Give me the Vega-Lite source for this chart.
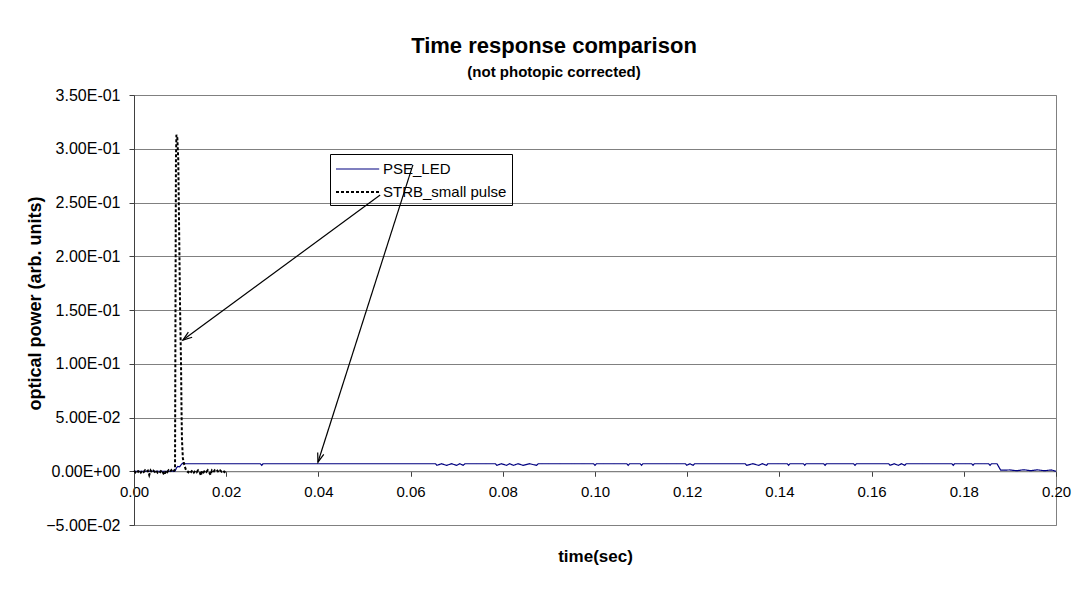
{
  "$schema": "https://vega.github.io/schema/vega-lite/v6.json",
  "width": 922,
  "height": 430,
  "autosize": "none",
  "padding": {"left": 134, "top": 95, "right": 30, "bottom": 73},
  "background": "white",
  "title": {
    "text": "Time response comparison",
    "subtitle": "(not photopic corrected)",
    "anchor": "middle",
    "frame": "group",
    "dx": -41,
    "offset": 6,
    "font": "Liberation Sans",
    "fontSize": 22,
    "fontWeight": "bold",
    "color": "black",
    "subtitleFont": "Liberation Sans",
    "subtitleFontSize": 15,
    "subtitleFontWeight": "bold",
    "subtitleColor": "black",
    "subtitlePadding": 7
  },
  "datasets": {
    "series": [
      {"t": 0.0, "power": 0.0, "series": "PSE_LED"},
      {"t": 0.0089, "power": 0.0, "series": "PSE_LED"},
      {"t": 0.0092, "power": 0.003, "series": "PSE_LED"},
      {"t": 0.0095, "power": 0.0045, "series": "PSE_LED"},
      {"t": 0.0099, "power": 0.0042, "series": "PSE_LED"},
      {"t": 0.0103, "power": 0.0065, "series": "PSE_LED"},
      {"t": 0.0107, "power": 0.0078, "series": "PSE_LED"},
      {"t": 0.0111, "power": 0.007, "series": "PSE_LED"},
      {"t": 0.0274, "power": 0.007, "series": "PSE_LED"},
      {"t": 0.0277, "power": 0.0055, "series": "PSE_LED"},
      {"t": 0.028, "power": 0.007, "series": "PSE_LED"},
      {"t": 0.0654, "power": 0.007, "series": "PSE_LED"},
      {"t": 0.0657, "power": 0.0055, "series": "PSE_LED"},
      {"t": 0.0667, "power": 0.007, "series": "PSE_LED"},
      {"t": 0.0678, "power": 0.0055, "series": "PSE_LED"},
      {"t": 0.0689, "power": 0.007, "series": "PSE_LED"},
      {"t": 0.07, "power": 0.0055, "series": "PSE_LED"},
      {"t": 0.0707, "power": 0.007, "series": "PSE_LED"},
      {"t": 0.0714, "power": 0.0055, "series": "PSE_LED"},
      {"t": 0.0718, "power": 0.007, "series": "PSE_LED"},
      {"t": 0.0784, "power": 0.007, "series": "PSE_LED"},
      {"t": 0.0787, "power": 0.0055, "series": "PSE_LED"},
      {"t": 0.0797, "power": 0.007, "series": "PSE_LED"},
      {"t": 0.0808, "power": 0.0055, "series": "PSE_LED"},
      {"t": 0.0815, "power": 0.007, "series": "PSE_LED"},
      {"t": 0.0823, "power": 0.0055, "series": "PSE_LED"},
      {"t": 0.0833, "power": 0.007, "series": "PSE_LED"},
      {"t": 0.0844, "power": 0.0055, "series": "PSE_LED"},
      {"t": 0.0858, "power": 0.007, "series": "PSE_LED"},
      {"t": 0.0873, "power": 0.0055, "series": "PSE_LED"},
      {"t": 0.0877, "power": 0.007, "series": "PSE_LED"},
      {"t": 0.0997, "power": 0.007, "series": "PSE_LED"},
      {"t": 0.1, "power": 0.0055, "series": "PSE_LED"},
      {"t": 0.1003, "power": 0.007, "series": "PSE_LED"},
      {"t": 0.1069, "power": 0.007, "series": "PSE_LED"},
      {"t": 0.1072, "power": 0.0055, "series": "PSE_LED"},
      {"t": 0.1075, "power": 0.007, "series": "PSE_LED"},
      {"t": 0.1098, "power": 0.007, "series": "PSE_LED"},
      {"t": 0.1101, "power": 0.0055, "series": "PSE_LED"},
      {"t": 0.1104, "power": 0.007, "series": "PSE_LED"},
      {"t": 0.1196, "power": 0.007, "series": "PSE_LED"},
      {"t": 0.1199, "power": 0.0055, "series": "PSE_LED"},
      {"t": 0.1206, "power": 0.007, "series": "PSE_LED"},
      {"t": 0.1213, "power": 0.0055, "series": "PSE_LED"},
      {"t": 0.1216, "power": 0.007, "series": "PSE_LED"},
      {"t": 0.1326, "power": 0.007, "series": "PSE_LED"},
      {"t": 0.1329, "power": 0.0055, "series": "PSE_LED"},
      {"t": 0.1342, "power": 0.007, "series": "PSE_LED"},
      {"t": 0.1355, "power": 0.0055, "series": "PSE_LED"},
      {"t": 0.1363, "power": 0.007, "series": "PSE_LED"},
      {"t": 0.1372, "power": 0.0055, "series": "PSE_LED"},
      {"t": 0.1375, "power": 0.007, "series": "PSE_LED"},
      {"t": 0.1417, "power": 0.007, "series": "PSE_LED"},
      {"t": 0.142, "power": 0.0055, "series": "PSE_LED"},
      {"t": 0.1423, "power": 0.007, "series": "PSE_LED"},
      {"t": 0.1452, "power": 0.007, "series": "PSE_LED"},
      {"t": 0.1455, "power": 0.0055, "series": "PSE_LED"},
      {"t": 0.1458, "power": 0.007, "series": "PSE_LED"},
      {"t": 0.1496, "power": 0.007, "series": "PSE_LED"},
      {"t": 0.1499, "power": 0.0055, "series": "PSE_LED"},
      {"t": 0.1502, "power": 0.007, "series": "PSE_LED"},
      {"t": 0.1561, "power": 0.007, "series": "PSE_LED"},
      {"t": 0.1564, "power": 0.0055, "series": "PSE_LED"},
      {"t": 0.1567, "power": 0.007, "series": "PSE_LED"},
      {"t": 0.1637, "power": 0.007, "series": "PSE_LED"},
      {"t": 0.164, "power": 0.0055, "series": "PSE_LED"},
      {"t": 0.1649, "power": 0.007, "series": "PSE_LED"},
      {"t": 0.1658, "power": 0.0055, "series": "PSE_LED"},
      {"t": 0.1665, "power": 0.007, "series": "PSE_LED"},
      {"t": 0.1672, "power": 0.0055, "series": "PSE_LED"},
      {"t": 0.1675, "power": 0.007, "series": "PSE_LED"},
      {"t": 0.1774, "power": 0.007, "series": "PSE_LED"},
      {"t": 0.1777, "power": 0.0055, "series": "PSE_LED"},
      {"t": 0.178, "power": 0.007, "series": "PSE_LED"},
      {"t": 0.1817, "power": 0.007, "series": "PSE_LED"},
      {"t": 0.182, "power": 0.0055, "series": "PSE_LED"},
      {"t": 0.1823, "power": 0.007, "series": "PSE_LED"},
      {"t": 0.1854, "power": 0.007, "series": "PSE_LED"},
      {"t": 0.1857, "power": 0.0055, "series": "PSE_LED"},
      {"t": 0.186, "power": 0.007, "series": "PSE_LED"},
      {"t": 0.1872, "power": 0.007, "series": "PSE_LED"},
      {"t": 0.188, "power": 0.001, "series": "PSE_LED"},
      {"t": 0.19, "power": 0.0012, "series": "PSE_LED"},
      {"t": 0.1915, "power": 0.0005, "series": "PSE_LED"},
      {"t": 0.193, "power": 0.0014, "series": "PSE_LED"},
      {"t": 0.1945, "power": 0.0005, "series": "PSE_LED"},
      {"t": 0.196, "power": 0.0013, "series": "PSE_LED"},
      {"t": 0.1975, "power": 0.0005, "series": "PSE_LED"},
      {"t": 0.199, "power": 0.0012, "series": "PSE_LED"},
      {"t": 0.2, "power": 0.0, "series": "PSE_LED"},
      {"t": 0.0, "power": 0.0005, "series": "STRB_small pulse"},
      {"t": 0.0003, "power": -0.001, "series": "STRB_small pulse"},
      {"t": 0.0006, "power": 0.0008, "series": "STRB_small pulse"},
      {"t": 0.0009, "power": -0.0005, "series": "STRB_small pulse"},
      {"t": 0.0012, "power": 0.001, "series": "STRB_small pulse"},
      {"t": 0.0015, "power": -0.0012, "series": "STRB_small pulse"},
      {"t": 0.0018, "power": 0.0004, "series": "STRB_small pulse"},
      {"t": 0.0021, "power": -0.0008, "series": "STRB_small pulse"},
      {"t": 0.0024, "power": 0.0009, "series": "STRB_small pulse"},
      {"t": 0.0027, "power": -0.0004, "series": "STRB_small pulse"},
      {"t": 0.003, "power": 0.0006, "series": "STRB_small pulse"},
      {"t": 0.0033, "power": -0.0035, "series": "STRB_small pulse"},
      {"t": 0.0036, "power": 0.0008, "series": "STRB_small pulse"},
      {"t": 0.0039, "power": -0.001, "series": "STRB_small pulse"},
      {"t": 0.0042, "power": 0.0005, "series": "STRB_small pulse"},
      {"t": 0.0045, "power": -0.0006, "series": "STRB_small pulse"},
      {"t": 0.0048, "power": 0.001, "series": "STRB_small pulse"},
      {"t": 0.0051, "power": -0.0012, "series": "STRB_small pulse"},
      {"t": 0.0054, "power": 0.0003, "series": "STRB_small pulse"},
      {"t": 0.0057, "power": -0.0007, "series": "STRB_small pulse"},
      {"t": 0.006, "power": 0.0009, "series": "STRB_small pulse"},
      {"t": 0.0063, "power": -0.0015, "series": "STRB_small pulse"},
      {"t": 0.0066, "power": -0.0035, "series": "STRB_small pulse"},
      {"t": 0.0069, "power": 0.0006, "series": "STRB_small pulse"},
      {"t": 0.0072, "power": -0.0009, "series": "STRB_small pulse"},
      {"t": 0.0075, "power": 0.0008, "series": "STRB_small pulse"},
      {"t": 0.0078, "power": -0.0005, "series": "STRB_small pulse"},
      {"t": 0.0081, "power": 0.001, "series": "STRB_small pulse"},
      {"t": 0.0084, "power": -0.0008, "series": "STRB_small pulse"},
      {"t": 0.0087, "power": 0.0004, "series": "STRB_small pulse"},
      {"t": 0.0089, "power": 0.002, "series": "STRB_small pulse"},
      {"t": 0.009, "power": 0.15, "series": "STRB_small pulse"},
      {"t": 0.0091, "power": 0.29, "series": "STRB_small pulse"},
      {"t": 0.0092, "power": 0.313, "series": "STRB_small pulse"},
      {"t": 0.0094, "power": 0.31, "series": "STRB_small pulse"},
      {"t": 0.0096, "power": 0.29, "series": "STRB_small pulse"},
      {"t": 0.0098, "power": 0.22, "series": "STRB_small pulse"},
      {"t": 0.01, "power": 0.15, "series": "STRB_small pulse"},
      {"t": 0.0102, "power": 0.1, "series": "STRB_small pulse"},
      {"t": 0.0103, "power": 0.06, "series": "STRB_small pulse"},
      {"t": 0.0104, "power": 0.03, "series": "STRB_small pulse"},
      {"t": 0.0106, "power": 0.012, "series": "STRB_small pulse"},
      {"t": 0.0109, "power": 0.006, "series": "STRB_small pulse"},
      {"t": 0.0112, "power": 0.002, "series": "STRB_small pulse"},
      {"t": 0.0115, "power": 0.0, "series": "STRB_small pulse"},
      {"t": 0.0118, "power": -0.001, "series": "STRB_small pulse"},
      {"t": 0.0121, "power": 0.0008, "series": "STRB_small pulse"},
      {"t": 0.0124, "power": -0.0006, "series": "STRB_small pulse"},
      {"t": 0.0127, "power": 0.001, "series": "STRB_small pulse"},
      {"t": 0.013, "power": -0.0012, "series": "STRB_small pulse"},
      {"t": 0.0133, "power": 0.0005, "series": "STRB_small pulse"},
      {"t": 0.0136, "power": -0.0008, "series": "STRB_small pulse"},
      {"t": 0.0139, "power": 0.0009, "series": "STRB_small pulse"},
      {"t": 0.0142, "power": -0.0005, "series": "STRB_small pulse"},
      {"t": 0.0145, "power": -0.004, "series": "STRB_small pulse"},
      {"t": 0.0148, "power": 0.0006, "series": "STRB_small pulse"},
      {"t": 0.0151, "power": -0.001, "series": "STRB_small pulse"},
      {"t": 0.0154, "power": 0.0008, "series": "STRB_small pulse"},
      {"t": 0.0157, "power": -0.0006, "series": "STRB_small pulse"},
      {"t": 0.016, "power": 0.001, "series": "STRB_small pulse"},
      {"t": 0.0163, "power": -0.0009, "series": "STRB_small pulse"},
      {"t": 0.0166, "power": -0.0035, "series": "STRB_small pulse"},
      {"t": 0.0169, "power": 0.0007, "series": "STRB_small pulse"},
      {"t": 0.0172, "power": -0.0008, "series": "STRB_small pulse"},
      {"t": 0.0175, "power": 0.0009, "series": "STRB_small pulse"},
      {"t": 0.0178, "power": -0.0005, "series": "STRB_small pulse"},
      {"t": 0.0181, "power": 0.0006, "series": "STRB_small pulse"},
      {"t": 0.0184, "power": -0.001, "series": "STRB_small pulse"},
      {"t": 0.0187, "power": 0.0008, "series": "STRB_small pulse"},
      {"t": 0.019, "power": -0.0004, "series": "STRB_small pulse"},
      {"t": 0.0193, "power": 0.0007, "series": "STRB_small pulse"},
      {"t": 0.0196, "power": -0.0008, "series": "STRB_small pulse"},
      {"t": 0.0199, "power": 0.0003, "series": "STRB_small pulse"}
    ],
    "arrows": [
      {"arrow": "STRB", "x1": 0.0534, "y1": 0.257, "x2": 0.0106, "y2": 0.122},
      {"arrow": "PSE", "x1": 0.0605, "y1": 0.285, "x2": 0.0399, "y2": 0.0084}
    ]
  },
  "layer": [
    {
      "data": {"name": "series"},
      "mark": {"type": "line", "interpolate": "linear"},
      "encoding": {
        "x": {"field": "t", "type": "quantitative", "title": "time(sec)",
              "scale": {"domain": [0, 0.2], "nice": false, "zero": false},
              "axis": {"values": [0, 0.02, 0.04, 0.06, 0.08, 0.1, 0.12, 0.14, 0.16, 0.18, 0.2]}},
        "y": {"field": "power", "type": "quantitative", "title": "optical power (arb. units)",
              "scale": {"domain": [-0.05, 0.35], "nice": false, "zero": false},
              "axis": {"values": [-0.05, 0, 0.05, 0.1, 0.15, 0.2, 0.25, 0.3, 0.35]}},
        "color": {"field": "series", "type": "nominal", "title": null,
                  "scale": {"domain": ["PSE_LED", "STRB_small pulse"], "range": ["#000080", "#000000"]}},
        "strokeDash": {"field": "series", "type": "nominal", "title": null,
                  "scale": {"domain": ["PSE_LED", "STRB_small pulse"], "range": [[1, 0], [3, 2]]}},
        "strokeWidth": {"field": "series", "type": "nominal", "title": null,
                  "scale": {"domain": ["PSE_LED", "STRB_small pulse"], "range": [1.2, 2]}},
        "order": {"field": "t", "type": "quantitative"}
      }
    },
    {
      "data": {"name": "arrows"},
      "mark": {"type": "rule", "color": "black", "strokeWidth": 1.2},
      "encoding": {
        "x": {"field": "x1", "type": "quantitative", "title": "time(sec)"},
        "y": {"field": "y1", "type": "quantitative", "title": "optical power (arb. units)"},
        "x2": {"field": "x2"},
        "y2": {"field": "y2"}
      }
    },
    {
      "data": {"name": "arrows"},
      "transform": [{"filter": "datum.arrow == 'STRB'"}],
      "mark": {"type": "point", "shape": "M-0.45,1.3L0,0L0.45,1.3", "filled": false, "stroke": "black", "strokeWidth": 1.2, "size": 200, "angle": 233.6, "opacity": 1},
      "encoding": {
        "x": {"field": "x2", "type": "quantitative", "title": "time(sec)"},
        "y": {"field": "y2", "type": "quantitative", "title": "optical power (arb. units)"}
      }
    },
    {
      "data": {"name": "arrows"},
      "transform": [{"filter": "datum.arrow == 'PSE'"}],
      "mark": {"type": "point", "shape": "M-0.45,1.3L0,0L0.45,1.3", "filled": false, "stroke": "black", "strokeWidth": 1.2, "size": 200, "angle": 197.7, "opacity": 1},
      "encoding": {
        "x": {"field": "x2", "type": "quantitative", "title": "time(sec)"},
        "y": {"field": "y2", "type": "quantitative", "title": "optical power (arb. units)"}
      }
    }
  ],
  "config": {
    "font": "Liberation Sans",
    "view": {"stroke": "#808080", "strokeWidth": 1},
    "axis": {
      "labelFont": "Liberation Sans",
      "labelFontSize": 15,
      "labelColor": "black",
      "titleFont": "Liberation Sans",
      "titleFontSize": 17,
      "titleFontWeight": "bold",
      "titleColor": "black",
      "tickSize": 5,
      "tickColor": "#404040",
      "domainColor": "#404040"
    },
    "axisX": {
      "offset": -53.75,
      "grid": false,
      "format": ".2f",
      "labelPadding": 8,
      "titlePadding": 49,
      "domainColor": "#808080",
      "labelFlush": false,
      "labelOverlap": false
    },
    "axisY": {
      "grid": true,
      "gridColor": "#808080",
      "gridWidth": 1,
      "labelFontSize": 16,
      "titleFontSize": 18,
      "titleY": 208,
      "labelExpr": "datum.value == 0 ? '0.00E+00' : replace(upper(format(datum.value, '.2e')), 'E-', 'E-0')",
      "labelPadding": 9,
      "titlePadding": 1,
      "labelFlush": false,
      "labelOverlap": false
    },
    "legend": {
      "orient": "none",
      "legendX": 196,
      "legendY": 59,
      "strokeColor": "black",
      "fillColor": "transparent",
      "padding": 5,
      "labelFont": "Liberation Sans",
      "labelFontSize": 15,
      "labelColor": "black",
      "symbolType": "M-1,0H3.8",
      "symbolSize": 324,
      "labelOffset": 28,
      "rowPadding": 5
    }
  }
}
